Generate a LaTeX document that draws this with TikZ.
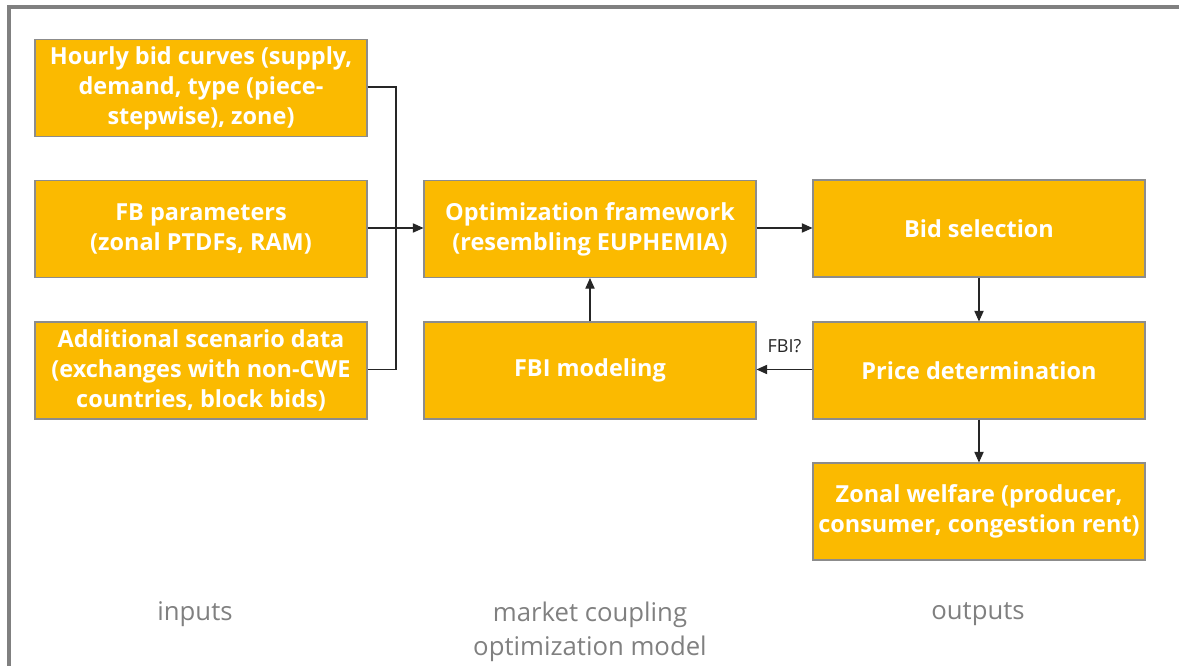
\documentclass[tikz,border=0pt]{standalone}
\usepackage{fontspec}
\setmainfont{Open Sans}
\usetikzlibrary{arrows.meta}
\definecolor{boxfill}{RGB}{251,186,0}
\definecolor{boxline}{RGB}{140,140,140}
\definecolor{framegray}{RGB}{128,128,128}
\definecolor{labelgray}{RGB}{128,128,128}
\begin{document}
\begin{tikzpicture}[x=0.75pt,y=-0.75pt,
  block/.style={draw=boxline,line width=0.8pt,fill=boxfill,minimum width=249pt,minimum height=72.75pt,
    inner sep=2pt,align=center,text=white,font=\fontsize{17.6}{22.5}\selectfont\bfseries},
  link/.style={draw=black!85,line width=0.8pt},
  arr/.style={link,-{Triangle[length=8pt,width=7pt]}},
  caption/.style={text=labelgray,font=\fontsize{19.3}{25.5}\selectfont,align=center}]
\useasboundingbox (0,0) rectangle (1179,666);
% outer frame, open at right and bottom
\draw[framegray,line width=3pt] (9,666) -- (9,7) -- (1179,7);

% inputs
\node[block] (hourly) at (201,88) {Hourly bid curves (supply,\\demand, type (piece-\\stepwise), zone)};
\node[block] (fbpar) at (201,229) {FB parameters\\(zonal PTDFs, RAM)};
\node[block] (addl) at (201,370.5) {Additional scenario data\\(exchanges with non-CWE\\countries, block bids)};

% optimization model
\node[block] (opt) at (590,229) {Optimization framework\\(resembling EUPHEMIA)};
\node[block] (fbi) at (590,370.5) {FBI modeling};

% outputs
\node[block] (bid) at (979,228.5) {Bid selection};
\node[block] (price) at (979,370.5) {Price determination};
\node[block] (welfare) at (979,511.5) {Zonal welfare (producer,\\consumer, congestion rent)};

% bracket collecting the inputs
\coordinate (bt) at (396,87);
\coordinate (bb) at (396,369.5);
\draw[link] (hourly.east |- bt) -- (bt) -- (bb) -- (addl.east |- bb);
\draw[arr] (fbpar.east |- 0,228) -- (opt.west |- 0,228);

\draw[arr] (opt.east |- 0,228) -- (bid.west |- 0,228);
\draw[arr] (bid.south) -- (price.north);
\draw[arr] (price.south) -- (welfare.north);
\draw[arr] (price.west |- 0,369.5) -- node[above=9pt,text=black!85,font=\fontsize{13.5}{15}\selectfont] {FBI?} (fbi.east |- 0,369.5);
\draw[arr] (fbi.north) -- (opt.south);

% column captions
\node[caption] (capin) at (195,614) {inputs};
\node[caption] (capmid) at (590,631.5) {market coupling\\optimization model};
\node[caption] (capout) at (978,614) {outputs};
\end{tikzpicture}
\end{document}
